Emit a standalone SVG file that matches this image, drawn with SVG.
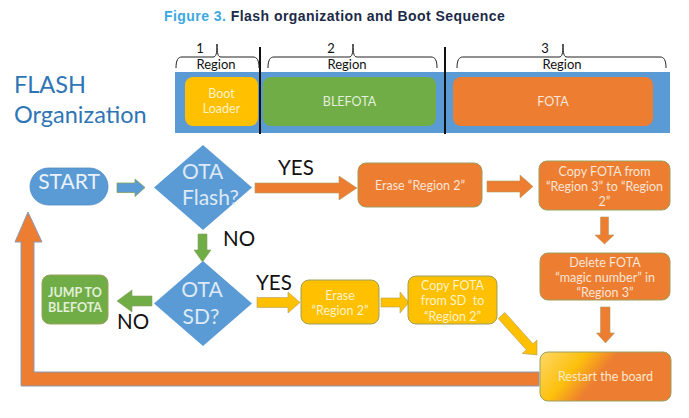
<svg xmlns="http://www.w3.org/2000/svg" width="689" height="418" viewBox="0 0 689 418">
<defs>
<style>
.t{font-family:Lato,"Open Sans","Liberation Sans",sans-serif;}
.lbl{font-family:Lato,"Open Sans","Liberation Sans",sans-serif;font-size:20.5px;fill:#111;}
.box{stroke:#9c9f5a;stroke-width:1;}
.or{fill:#ed7d31;}
.ye{fill:#ffc000;}
.gr{fill:#70ad47;}
.bl{fill:#5b9bd5;}
.wt{font-family:Lato,"Open Sans","Liberation Sans",sans-serif;font-size:12.5px;text-anchor:middle;}
.ot{fill:#fbe5d6;}
.yt{fill:#fff2cc;}
.gt{fill:#e2f0d9;}
.dt{font-family:Lato,"Open Sans","Liberation Sans",sans-serif;font-size:21px;fill:#dde9f6;}
.brace{fill:none;stroke:#222;stroke-width:1;}
.reg{font-family:Lato,"Open Sans","Liberation Sans",sans-serif;font-size:13px;fill:#111;text-anchor:middle;}
</style>
<linearGradient id="rg" x1="0" y1="0" x2="1" y2="0.3">
<stop offset="0" stop-color="#fdd86a"/>
<stop offset="0.33" stop-color="#fdc00c"/>
<stop offset="0.55" stop-color="#ed7d31"/>
<stop offset="1" stop-color="#ed7d31"/>
</linearGradient>
</defs>
<rect width="689" height="418" fill="#ffffff"/>

<g id="title">
<text x="164" y="21" font-family="'Liberation Sans',Arial,sans-serif" font-size="14" font-weight="bold" letter-spacing="0.45"><tspan fill="#3ba9df">Figure 3. </tspan><tspan fill="#1c2a48">Flash organization and Boot Sequence</tspan></text>
</g>

<g id="flash-label">
<text class="t" x="14" y="93" font-size="23.5" fill="#2e75b6">FLASH</text>
<text class="t" x="14" y="123" font-size="23.5" fill="#2e75b6">Organization</text>
</g>

<g id="flash-bar">
<rect x="175" y="72" width="495" height="61" class="bl"/>
</g>
<g id="bootloader">
<rect x="185" y="77" width="73" height="49" rx="8" class="ye"/>
<text class="wt yt" x="221.5" y="98">Boot</text>
<text class="wt yt" x="221.5" y="113">Loader</text>
</g>
<g id="blefota">
<rect x="263" y="77" width="173" height="49" rx="8" class="gr"/>
<text class="wt gt" x="349.5" y="106">BLEFOTA</text>
</g>
<g id="fota">
<rect x="453" y="77" width="200" height="49" rx="8" class="or"/>
<text class="wt ot" x="553" y="106">FOTA</text>
</g>
<g id="dividers">
<line x1="260" y1="47" x2="260" y2="134" stroke="#111" stroke-width="2"/>
<line x1="445" y1="47" x2="445" y2="134" stroke="#111" stroke-width="2"/>
</g>
<g id="regions">
<path class="brace" d="M176,68 C176,60 178,57 182,57 L213,57 C216,57 217,54 217,44 C217,54 218,57 221,57 L253,57 C257,57 259,60 259,68"/>
<text class="reg" x="200" y="53">1</text>
<text class="reg" x="216" y="69">Region</text>
<path class="brace" d="M268,68 C268,60 270,57 274,57 L349,57 C352,57 353,54 353,44 C353,54 354,57 357,57 L431,57 C435,57 437,60 437,68"/>
<text class="reg" x="331" y="53">2</text>
<text class="reg" x="347" y="69">Region</text>
<path class="brace" d="M457,68 C457,60 459,57 463,57 L559,57 C562,57 563,54 563,44 C563,54 564,57 567,57 L660,57 C664,57 666,60 666,68"/>
<text class="reg" x="545" y="53">3</text>
<text class="reg" x="562" y="69">Region</text>
</g>

<g id="connectors">
<polygon class="bl" stroke="#7ea35a" stroke-width="0.8" points="117,183 135,183 135,179 145,187.5 135,196.5 135,192.5 117,192.5"/>
<polygon class="or" stroke="#b0a060" stroke-width="0.6" points="255,183 339,183 339,176 357,188 339,200 339,193 255,193"/>
<polygon class="or" stroke="#b0a060" stroke-width="0.6" points="487,181 520,181 520,175 533,186.5 520,198 520,192 487,192"/>
<polygon class="or" stroke="#b0a060" stroke-width="0.6" points="600.5,217 608.5,217 608.5,235 614,235 604.5,244 595,235 600.5,235"/>
<polygon class="or" stroke="#b0a060" stroke-width="0.6" points="600.5,307 610,307 610,333 614.5,333 605.5,343 596.5,333 600.5,333"/>
<polygon class="gr" stroke="#8aa060" stroke-width="0.6" points="198,234 207,234 207,250 211,250 202.5,262 194,250 198,250"/>
<polygon class="gr" stroke="#8aa060" stroke-width="0.6" points="152,296 132,296 132,290 117,301 132,312 132,306 152,306"/>
<polygon class="ye" stroke="#b0a060" stroke-width="0.6" points="257,297.5 288,297.5 288,292 300,302.5 288,313 288,307.5 257,307.5"/>
<polygon class="ye" stroke="#b0a060" stroke-width="0.6" points="381,298 400,298 400,292 409,302.5 400,313 400,307 381,307"/>
<polygon class="ye" stroke="#b0a060" stroke-width="0.6" transform="translate(501.5,315.5) rotate(48)" points="0,-4.5 42,-4.5 42,-10 53,0 42,10 42,4.5 0,4.5"/>
<polygon class="or" stroke="#8a9cb8" stroke-width="1" points="539,372 34,372 34,242 42,242 28,212 15,242 21,242 21,386 539,386"/>
</g>

<g id="start">
<rect x="30" y="168" width="78" height="37" rx="18.5" class="bl" stroke="#4f8cc6" stroke-width="0.8"/>
<text class="t" x="69" y="188.5" font-size="21" fill="#eaf2fb" text-anchor="middle">START</text>
</g>

<g id="ota-flash">
<polygon class="bl" points="203,145 252,187.5 203,230 154,187.5"/>
<text class="dt" x="182" y="179">OTA</text>
<text class="dt" x="182" y="205">Flash?</text>
</g>

<g id="ota-sd">
<polygon class="bl" points="203,261 252,303.5 203,346 154,303.5"/>
<text class="dt" x="202" y="297" text-anchor="middle">OTA</text>
<text class="dt" x="201" y="324" text-anchor="middle">SD?</text>
</g>

<g id="labels">
<text class="lbl" x="278" y="175">YES</text>
<text class="lbl" x="223" y="246">NO</text>
<text class="lbl" x="256" y="289.5">YES</text>
<text class="lbl" x="117" y="329">NO</text>
</g>

<g id="erase-flash">
<rect x="358" y="163" width="124" height="44" rx="8" class="or box"/>
<text class="wt ot" x="420" y="189.5">Erase “Region 2”</text>
</g>

<g id="copy-flash">
<rect x="539" y="161" width="131" height="49" rx="8" class="or box"/>
<text class="wt ot" x="604.5" y="175.5">Copy FOTA from</text>
<text class="wt ot" x="604.5" y="190.5">“Region 3” to “Region</text>
<text class="wt ot" x="604.5" y="205.5">2”</text>
</g>

<g id="delete-magic">
<rect x="540" y="253" width="130" height="47" rx="8" class="or box"/>
<text class="wt ot" x="605" y="266.5">Delete FOTA</text>
<text class="wt ot" x="605" y="281.5">“magic number” in</text>
<text class="wt ot" x="605" y="297">“Region 3”</text>
</g>

<g id="restart">
<rect x="540" y="352" width="131" height="49" rx="8" fill="url(#rg)" class="box"/>
<text class="wt" x="605.5" y="381" fill="#fde9cc">Restart the board</text>
</g>

<g id="erase-sd">
<rect x="301" y="280" width="78" height="44" rx="8" class="ye box"/>
<text class="wt yt" x="340" y="299.5">Erase</text>
<text class="wt yt" x="340" y="314.5">“Region 2”</text>
</g>

<g id="copy-sd">
<rect x="408" y="276" width="89" height="48" rx="8" class="ye box"/>
<text class="wt yt" x="452.5" y="289.5">Copy FOTA</text>
<text class="wt yt" x="452.5" y="305" style="white-space:pre">from SD  to</text>
<text class="wt yt" x="452.5" y="321">“Region 2”</text>
</g>

<g id="jump">
<rect x="42" y="275" width="66" height="49" rx="8" class="gr box"/>
<text class="wt gt" x="75" y="297" font-size="11" font-weight="bold">JUMP TO</text>
<text class="wt gt" x="75" y="312" font-size="11" font-weight="bold">BLEFOTA</text>
</g>
</svg>
